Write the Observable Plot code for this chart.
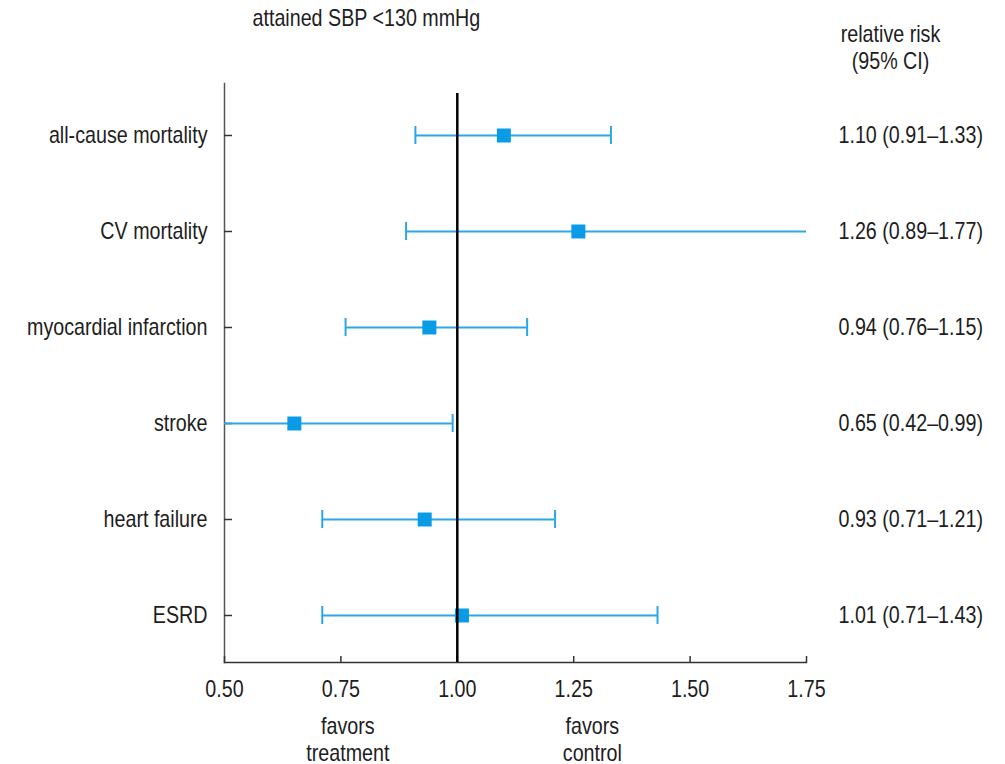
<!DOCTYPE html>
<html>
<head>
<meta charset="utf-8">
<script src="https://cdn.jsdelivr.net/npm/d3@7"></script>
<script src="https://cdn.jsdelivr.net/npm/@observablehq/plot@0.6"></script>
<style>
  html, body { margin: 0; padding: 0; background: #ffffff; }
  #chart { width: 1005px; height: 764px; }
</style>
</head>
<body>
<div id="chart"></div>
<script>
// Forest plot: relative risk with 95% CI for attained SBP < 130 mmHg
const outcomes = ["all-cause mortality", "CV mortality", "myocardial infarction", "stroke", "heart failure", "ESRD"];
const relativeRisk = [1.10, 1.26, 0.94, 0.65, 0.93, 1.01];
const ciLower = [0.91, 0.89, 0.76, 0.42, 0.71, 0.71];
const ciUpper = [1.33, 1.77, 1.15, 0.99, 1.21, 1.43];

const xTicks = [0.50, 0.75, 1.00, 1.25, 1.50, 1.75];
const titleText = "attained SBP <130 mmHg";
const headerText = "relative risk\n(95% CI)";
const favorLabels = [
  {x: 0.765, text: "favors\ntreatment"},
  {x: 1.29, text: "favors\ncontrol"}
];

const rows = outcomes.map((name, i) => ({
  name,
  rr: relativeRisk[i],
  lo: ciLower[i],
  hi: ciUpper[i],
  label: `${relativeRisk[i].toFixed(2)} (${ciLower[i].toFixed(2)}\u2013${ciUpper[i].toFixed(2)})`
}));

const ink = "#1d1d22";
const barBlue = "#2aa7e8";
const boxBlue = "#0a9be6";
const fs = 24;
const fmt = d3.format(".2f");

const chart = Plot.plot({
  width: 1005,
  height: 764,
  marginLeft: 224,
  marginRight: 199,
  marginTop: 83,
  marginBottom: 102,
  style: {
    fontFamily: "'Liberation Sans', Arial, sans-serif",
    color: ink,
    background: "#ffffff"
  },
  x: {domain: [0.5, 1.75]},
  y: {type: "band", domain: outcomes, range: [86, 663], padding: 0},
  marks: [
    // axis lines
    Plot.frame({anchor: "left", stroke: "#555", strokeWidth: 1.5}),
    Plot.frame({anchor: "bottom", stroke: "#333", strokeWidth: 1.5}),
    // inward ticks
    Plot.axisY({tickSize: 8, dx: 8, tickFormat: () => "", label: null, stroke: "#333", strokeWidth: 1.5}),
    Plot.axisX({ticks: xTicks, tickSize: 6, dy: -6, tickFormat: () => "", label: null, stroke: "#333", strokeWidth: 1.5}),
    // tick labels
    Plot.axisY({tickSize: 0, tickPadding: 17, label: null, fontSize: fs, fill: ink}),
    Plot.axisX({ticks: xTicks, tickFormat: fmt, tickSize: 0, tickPadding: 17, label: null, fontSize: fs, fill: ink}),
    // confidence intervals with end caps
    Plot.ruleY(rows, {y: "name", x1: "lo", x2: "hi", stroke: barBlue, strokeWidth: 2, clip: true}),
    Plot.tickX(rows, {x: "lo", y: "name", stroke: barBlue, strokeWidth: 2, insetTop: 39, insetBottom: 39, clip: true}),
    Plot.tickX(rows, {x: "hi", y: "name", stroke: barBlue, strokeWidth: 2, insetTop: 39, insetBottom: 39, clip: true}),
    // point estimates
    Plot.dot(rows, {x: "rr", y: "name", symbol: "square", r: 7.9, fill: boxBlue}),
    // line of no effect
    Plot.ruleX([1], {stroke: "#000", strokeWidth: 2.5, insetTop: 10}),
    // values column
    Plot.text(rows, {y: "name", text: "label", frameAnchor: "right", dx: 32, textAnchor: "start", fontSize: fs, fill: ink}),
    // headers
    Plot.text([titleText], {frameAnchor: "top-left", dx: 28, dy: -65, textAnchor: "start", lineAnchor: "middle", fontSize: fs, fill: ink}),
    Plot.text([headerText], {frameAnchor: "top-right", dx: 84, dy: -36.5, textAnchor: "middle", lineAnchor: "middle", lineHeight: 1.13, fontSize: fs, fill: ink}),
    // direction labels
    Plot.text(favorLabels, {x: "x", text: "text", frameAnchor: "bottom", dy: 76.5, textAnchor: "middle", lineAnchor: "middle", lineHeight: 1.13, fontSize: fs, fill: ink})
  ]
});

document.getElementById("chart").appendChild(chart);

// Condensed lettering: squeeze each run of text horizontally
const squeeze = 0.82;
chart.querySelectorAll("text").forEach((t) => {
  const spans = t.querySelectorAll("tspan");
  const targets = spans.length ? Array.from(spans) : [t];
  targets.forEach((el) => {
    const len = el.getComputedTextLength();
    if (len > 0) {
      el.setAttribute("textLength", len * squeeze);
      el.setAttribute("lengthAdjust", "spacingAndGlyphs");
    }
  });
});
</script>
</body>
</html>
